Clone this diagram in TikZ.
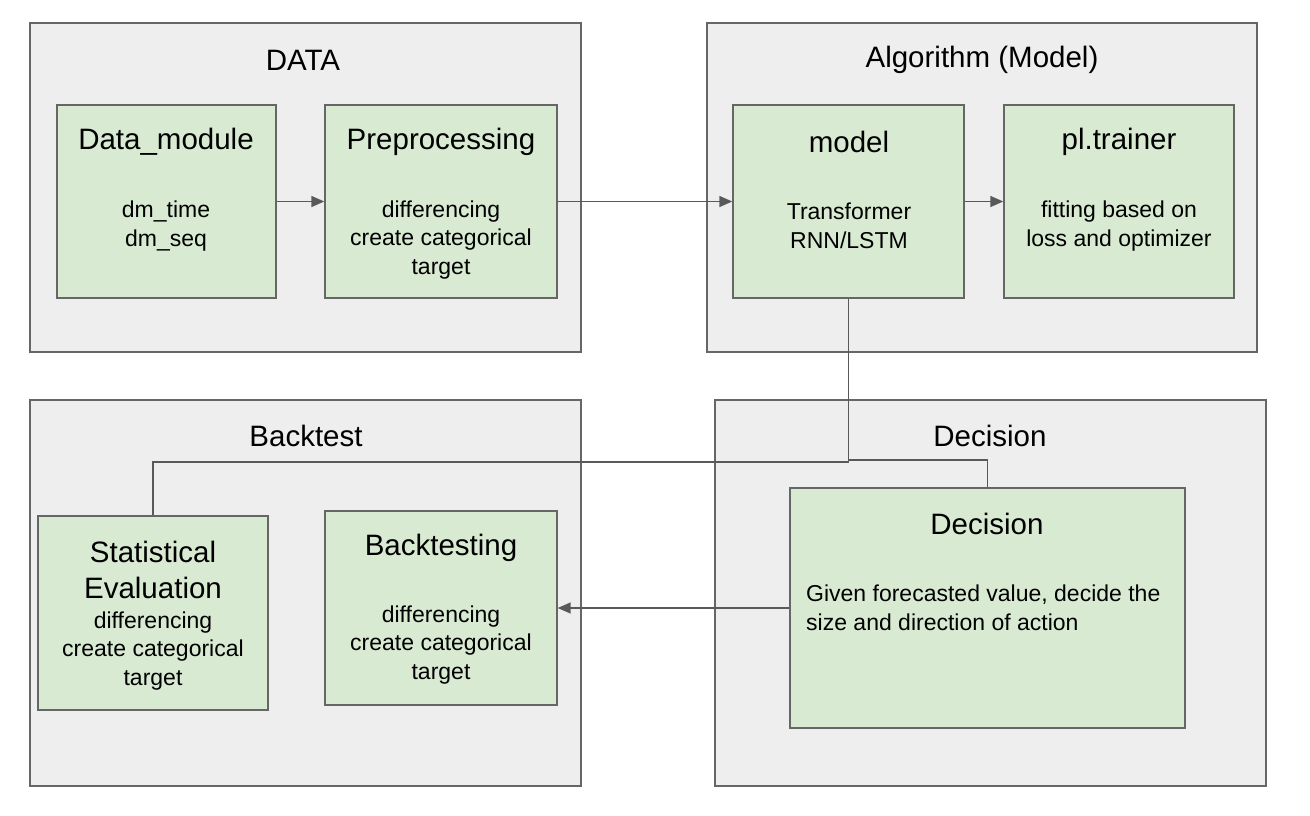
\documentclass[tikz,border=0pt]{standalone}
\usepackage{fontspec}
\setmainfont{Liberation Sans}
\usetikzlibrary{arrows.meta}

\definecolor{groupfill}{HTML}{EEEEEE}
\definecolor{boxfill}{HTML}{D9EAD3}
\definecolor{edge}{HTML}{666666}
\definecolor{wire}{HTML}{595959}

\begin{document}
\begin{tikzpicture}[x=1pt, y=-1pt,
    group/.style={draw=edge, fill=groupfill, line width=1.4pt, inner sep=0pt},
    box/.style={draw=edge, fill=boxfill, line width=1.4pt, inner sep=0pt},
    title/.style={font=\fontsize{29.5}{36}\selectfont, align=center, inner sep=0pt},
    body/.style={font=\fontsize{23}{28.5}\selectfont, align=center, inner sep=0pt},
    wireline/.style={draw=wire, line width=1.5pt},
    conn/.style={wireline, -{Triangle[length=13pt, width=11pt]}}]

    % Page size
    \useasboundingbox (0,0) rectangle (1310,816);

    % Group frames
    \node[group, minimum width=551pt, minimum height=329pt] (dataG)  at (305.5,187.5) {};
    \node[group, minimum width=550pt, minimum height=329pt] (algoG)  at (982,187.5)   {};
    \node[group, minimum width=551pt, minimum height=386pt] (backG)  at (305.5,593)   {};
    \node[group, minimum width=551pt, minimum height=386pt] (decG)   at (990.5,593)   {};

    \node[title] (dataT) at (303,60)  {DATA};
    \node[title] (algoT) at (982,60)  {Algorithm (Model)};
    \node[title] (backT) at (306,436) {Backtest};
    \node[title] (decT)  at (990,436) {Decision};

    % Boxes
    \node[box, minimum width=219pt, minimum height=193pt] (dm)      at (166.5,201.5) {};
    \node[box, minimum width=232pt, minimum height=193pt] (prep)    at (441,201.5)   {};
    \node[box, minimum width=231pt, minimum height=193pt] (model)   at (848.5,201.5) {};
    \node[box, minimum width=230pt, minimum height=193pt] (trainer) at (1119,201.5)  {};
    \node[box, minimum width=230pt, minimum height=194pt] (se)      at (153,613)     {};
    \node[box, minimum width=232pt, minimum height=194pt] (bt)      at (441,608)     {};
    \node[box, minimum width=395pt, minimum height=240pt] (dec)     at (987.5,608)   {};

    % Box texts
    \node[title] (dmT)      at (166,142)  {Data\_module};
    \node[body]  (dmB)      at (166,226)  {dm\_time\\dm\_seq};
    \node[title] (prepT)    at (441,142)  {Preprocessing};
    \node[body]  (prepB)    at (441,240)  {differencing\\create categorical\\target};
    \node[title] (modelT)   at (849,142)  {model};
    \node[body]  (modelB)   at (849,226)  {Transformer\\RNN/LSTM};
    \node[title] (trainerT) at (1119,142) {pl.trainer};
    \node[body]  (trainerB) at (1119,226) {fitting based on\\loss and optimizer};
    \node[title] (seT)      at (153,570)  {Statistical\\Evaluation};
    \node[body]  (seB)      at (153,651)  {differencing\\create categorical\\target};
    \node[title] (btT)      at (441,548)  {Backtesting};
    \node[body]  (btB)      at (441,645)  {differencing\\create categorical\\target};
    \node[title] (decBT)    at (987,524)  {Decision};
    \node[body, align=left, anchor=west] (decBB) at (806,608)
        {Given forecasted value, decide the\\size and direction of action};

    % Connectors
    \coordinate (k1) at (849,462);
    \coordinate (k2) at (849,460);

    \draw[conn] (dm.east) -- (prep.west);
    \draw[conn] (prep.east) -- (model.west);
    \draw[conn] (model.east) -- (trainer.west);
    \draw[wireline] (model.south) -- (model.south |- k1) -| (se.north);
    \draw[wireline] (dec.north) -- (dec.north |- k2) -- (k2);
    \draw[conn] (dec.west) -- (bt.east);

\end{tikzpicture}
\end{document}
